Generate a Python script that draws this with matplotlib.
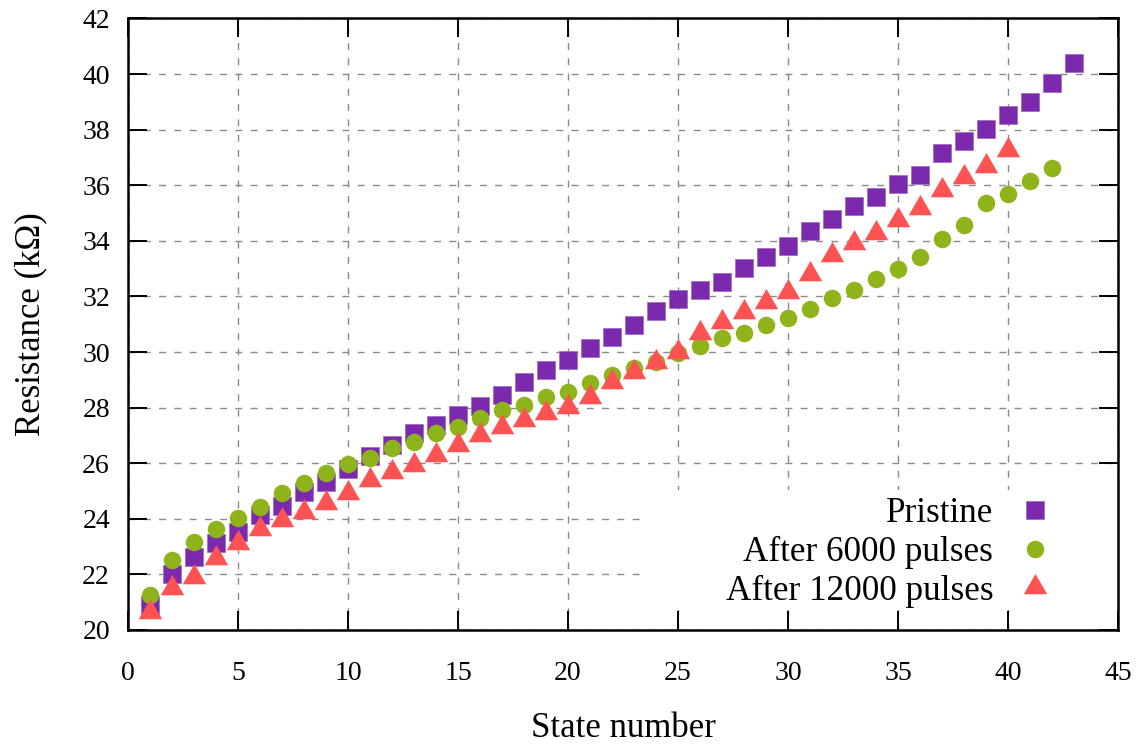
import numpy as np
from matplotlib import pyplot as plt
from matplotlib.patches import Rectangle

plt.rcParams['font.family'] = ['Liberation Serif', 'DejaVu Serif']

# resistance (kOhm) for each programmed state
pristine = [20.90, 22.00, 22.64, 23.14, 23.54, 24.14, 24.46, 24.97, 25.33, 25.78,
            26.26, 26.65, 27.08, 27.37, 27.73, 28.06, 28.45, 28.93, 29.35, 29.71,
            30.13, 30.55, 30.97, 31.49, 31.90, 32.23, 32.53, 33.01, 33.43, 33.81,
            34.35, 34.78, 35.26, 35.59, 36.03, 36.37, 37.17, 37.60, 38.01, 38.53,
            38.98, 39.67, 40.39]
after_6000 = [21.26, 22.52, 23.18, 23.62, 24.02, 24.44, 24.92, 25.28, 25.64, 25.96,
              26.18, 26.54, 26.77, 27.08, 27.31, 27.62, 27.91, 28.09, 28.37, 28.57,
              28.90, 29.17, 29.41, 29.65, 29.95, 30.23, 30.49, 30.67, 30.97, 31.21,
              31.54, 31.93, 32.23, 32.62, 32.97, 33.43, 34.06, 34.57, 35.35, 35.68,
              36.16, 36.63]
after_12000 = [20.66, 21.51, 21.92, 22.59, 23.13, 23.63, 23.96, 24.26, 24.56, 24.94,
               25.40, 25.69, 25.94, 26.29, 26.65, 27.01, 27.31, 27.55, 27.79, 28.03,
               28.39, 28.93, 29.29, 29.65, 30.01, 30.67, 31.09, 31.45, 31.81, 32.17,
               32.81, 33.49, 33.91, 34.29, 34.75, 35.19, 35.83, 36.28, 36.69, 37.27]
labels = ['Pristine', 'After 6000 pulses', 'After 12000 pulses']

x_ticks = np.arange(0, 46, 5)
y_ticks = np.arange(20, 43, 2)

# equilateral triangle centred on its centroid
tri = [(0, 0.577), (-0.5, -0.289), (0.5, -0.289), (0, 0.577)]

fig = plt.figure(figsize=(11.42, 7.49), dpi=100)
ax = fig.add_axes([0.1121, 0.1589, 0.8669, 0.8165])

ax.plot(np.arange(1, len(pristine) + 1), pristine, linestyle='none', marker='s',
        markersize=12.7, color='#7b2aae', markeredgewidth=0.6,
        markeredgecolor='#a070c8', label=labels[0], zorder=3)
ax.plot(np.arange(1, len(after_6000) + 1), after_6000, linestyle='none', marker='o',
        markersize=12.6, color='#8fb31b', markeredgewidth=0,
        label=labels[1], zorder=3)
ax.plot(np.arange(1, len(after_12000) + 1), after_12000, linestyle='none', marker=tri,
        markersize=19.5, color='#ff5252', markeredgewidth=0,
        label=labels[2], zorder=3)

ax.set_xlim(0, 45)
ax.set_ylim(20, 42)
ax.set_xticks(x_ticks)
ax.set_yticks(y_ticks)
ax.tick_params(direction='in', length=14, width=1.4, labelsize=20,
               top=True, right=True)
ax.tick_params(axis='x', pad=22)
ax.tick_params(axis='y', pad=13)
for s in ax.spines.values():
    s.set_linewidth(1.8)

ax.grid(True, color='#8a8a8a', linewidth=1.0, linestyle=(0, (5, 6)))
ax.set_axisbelow(True)

# white patch behind the key hides the grid there
ax.add_patch(Rectangle((0.522, 0.033), 0.478, 0.196, transform=ax.transAxes,
                       facecolor='white', edgecolor='none', zorder=1.5))

leg = ax.legend(loc='center right', bbox_to_anchor=(0.951, 0.127), frameon=False,
                markerfirst=False, fontsize=25.3, handlelength=0.95,
                handletextpad=0.72, labelspacing=0.16, borderpad=0)

ax.set_xlabel('State number', fontsize=25, labelpad=19)
ax.set_ylabel('Resistance (kΩ)', fontsize=25, labelpad=25)

plt.savefig('out.png', dpi=100)
